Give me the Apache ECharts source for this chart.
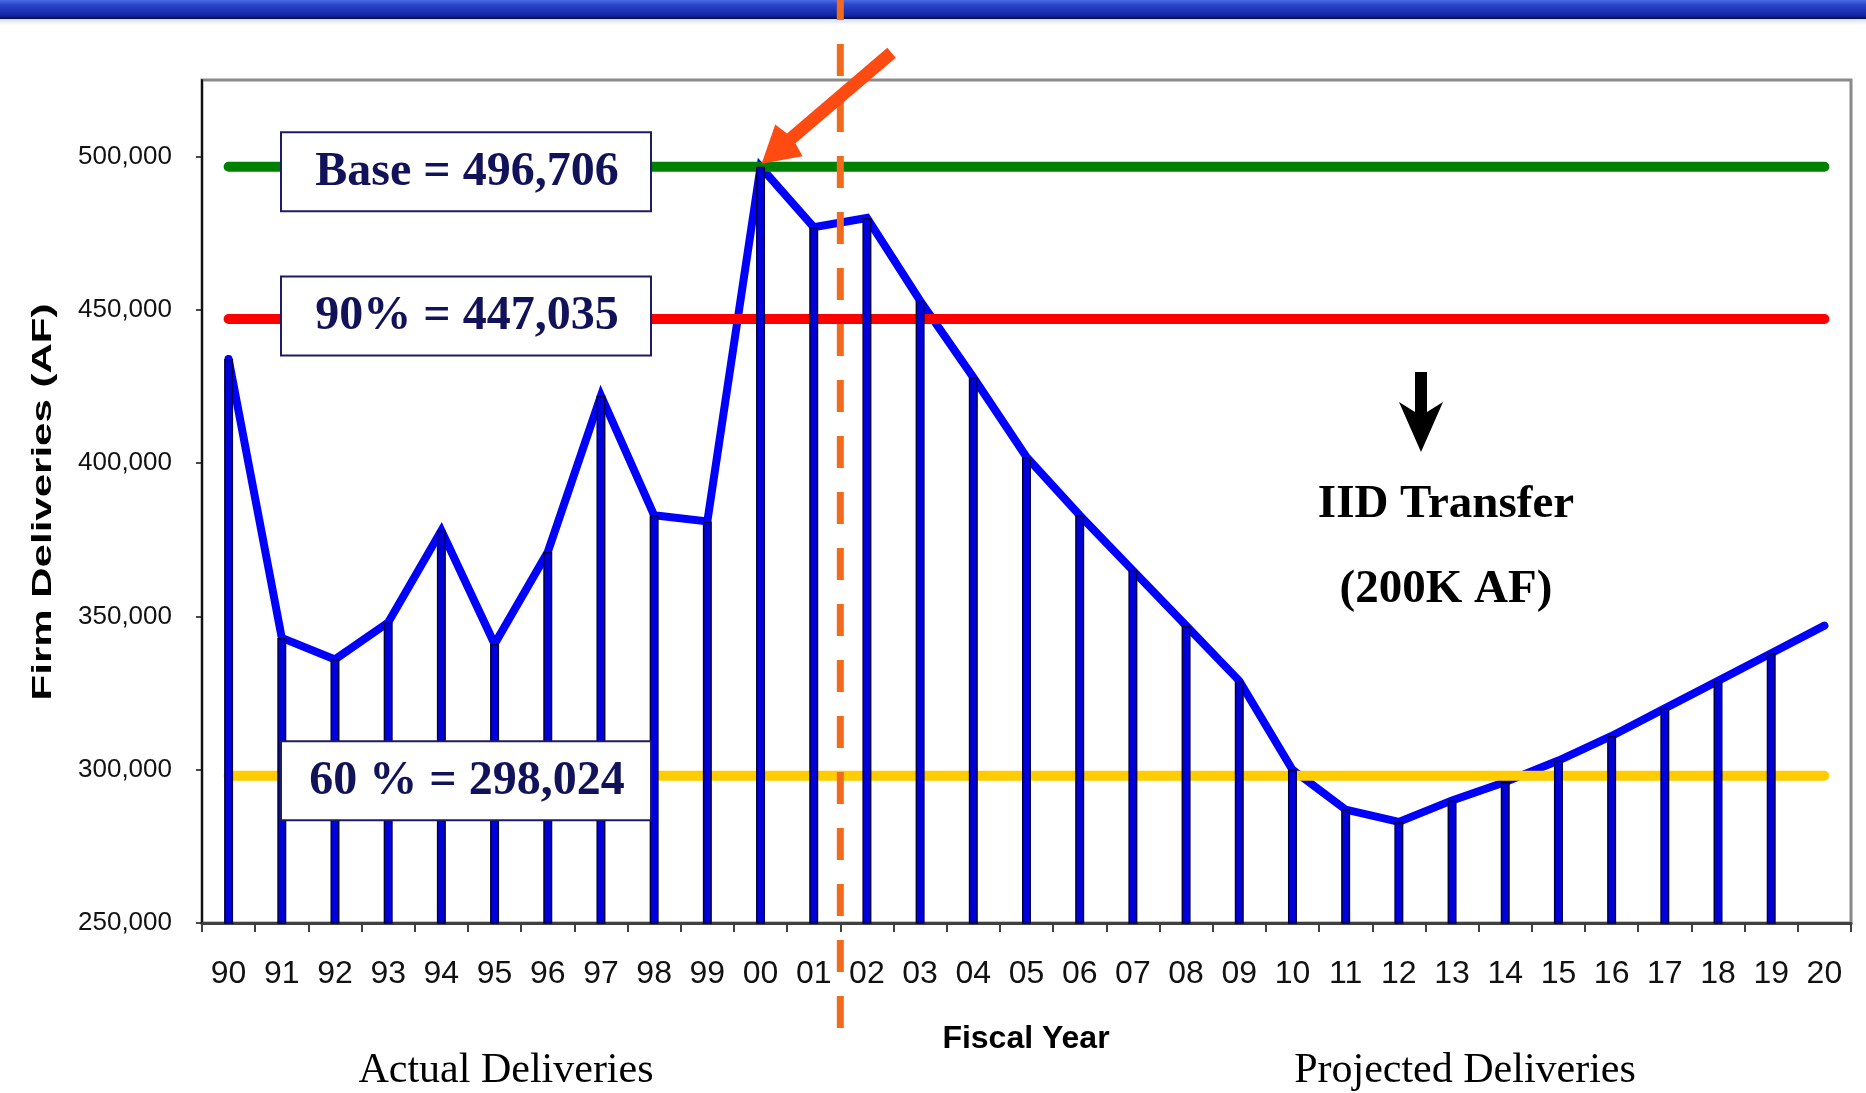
<!DOCTYPE html>
<html><head><meta charset="utf-8">
<script src="https://cdn.jsdelivr.net/npm/echarts@6/dist/echarts.min.js"></script>
<style>html,body{margin:0;padding:0;background:#fff;overflow:hidden}#c{width:1866px;height:1093px}</style>
</head><body><div id="c"></div>
<script>
// ---- data ----
const years = ['90','91','92','93','94','95','96','97','98','99','00','01','02','03','04','05','06','07','08','09','10','11','12','13','14','15','16','17','18','19','20'];
const deliveries = [434000,343000,336000,348000,378000,341000,371000,422000,383000,381000,496706,477000,480000,453000,428000,402000,383000,365000,347000,329000,300000,287000,283000,290000,296000,303000,311000,320000,329000,338000,347000];
const dropBars = [434000,343000,336000,348000,378000,341000,371000,422000,383000,381000,496706,477000,480000,453000,428000,402000,383000,365000,347000,329000,300000,287000,283000,290000,296000,303000,311000,320000,329000,338000,'-'];
const baseLevel = 496706;
const level90 = 447035;
const level60 = 298024;
const levelLabels = ['Base = 496,706', '90% = 447,035', '60 % = 298,024'];
const yTicks = [250000, 300000, 350000, 400000, 450000, 500000];
const splitAfter = '01';
const splitBefore = '02';
const peakYear = '00';

const chart = echarts.init(document.getElementById('c'), null, {renderer: 'canvas'});
const fill = v => years.map(() => v);
const fmt = v => v.toLocaleString('en-US');

const option = {
  backgroundColor: '#ffffff',
  animation: false,
  grid: {left: 202, top: 80, right: 15, bottom: 170, show: true, borderColor: '#8a8a8a', borderWidth: 3, backgroundColor: 'transparent'},
  xAxis: {
    type: 'category', data: years, boundaryGap: true,
    axisLine: {lineStyle: {color: '#404040', width: 3}},
    axisTick: {show: true, length: 9, lineStyle: {color: '#404040', width: 2}},
    axisLabel: {color: '#111', fontFamily: '"Liberation Sans Narrow", "Liberation Sans"', fontSize: 32, margin: 35, interval: 0},
    splitLine: {show: false}
  },
  yAxis: {
    type: 'value', min: 250000, max: 525000, interval: 50000,
    axisLine: {show: true, lineStyle: {color: '#111', width: 2}},
    axisTick: {show: true, length: 6, customValues: yTicks, lineStyle: {color: '#111', width: 1.5}},
    axisLabel: {color: '#111', fontFamily: 'Liberation Sans', fontSize: 26, margin: 30, customValues: yTicks, formatter: v => fmt(v)},
    splitLine: {show: false}
  },
  series: [
    {name: 'Deliveries', type: 'line', data: deliveries, symbol: 'none', z: 2,
     lineStyle: {color: '#0000FF', width: 8, join: 'miter', cap: 'round'}},
    {name: 'Base', type: 'line', data: fill(baseLevel), symbol: 'none', z: 3,
     lineStyle: {color: '#008000', width: 10, cap: 'round'}},
    {name: '90%', type: 'line', data: fill(level90), symbol: 'none', z: 3,
     lineStyle: {color: '#FF0000', width: 10, cap: 'round'}},
    {name: '60%', type: 'line', data: fill(level60), symbol: 'none', z: 3,
     lineStyle: {color: '#FFCC00', width: 10, cap: 'round'}},
    {name: 'Bars', type: 'bar', data: dropBars, barWidth: 9, z: 4,
     itemStyle: {color: '#0000DD', borderColor: '#000040', borderWidth: 1.5}}
  ]
};
chart.setOption(option);

function px(cat, val) { return chart.convertToPixel({gridIndex: 0}, [cat, val]); }

const g = [];
// top banner
g.push({type: 'rect', z: 200, shape: {x: 0, y: 0, width: 1866, height: 19},
  style: {fill: new echarts.graphic.LinearGradient(0, 0, 0, 1, [
    {offset: 0, color: '#4a6ae6'}, {offset: 0.25, color: '#2a46cc'},
    {offset: 0.8, color: '#1426a6'}, {offset: 1, color: '#060c50'}])}});
g.push({type: 'rect', z: 199, shape: {x: 0, y: 19, width: 1866, height: 6},
  style: {fill: new echarts.graphic.LinearGradient(0, 0, 0, 1, [
    {offset: 0, color: '#d8dcef'}, {offset: 1, color: '#ffffff'}])}});

// dashed divider between actual and projected
const xd = (px(splitAfter, 0)[0] + px(splitBefore, 0)[0]) / 2;
g.push({type: 'line', z: 210, shape: {x1: xd, y1: -12, x2: xd, y2: 1028},
  style: {stroke: '#F26B1D', lineWidth: 7, lineDash: [32, 24]}});

// orange arrow pointing at the peak
const tip0 = px(peakYear, baseLevel);
const tip = [tip0[0] + 1, tip0[1] - 3];
const tail = [tip[0] + 130, tip[1] - 111];
(function () {
  const dx = tail[0] - tip[0], dy = tail[1] - tip[1];
  const L = Math.hypot(dx, dy), ux = dx / L, uy = dy / L, nx = -uy, ny = ux;
  const H = 36, W = 21, s = 6.5;
  const P = (a, b) => [tip[0] + ux * a + nx * b, tip[1] + uy * a + ny * b];
  g.push({type: 'polygon', z: 220, shape: {points: [
    tip, P(H, W), P(H + 3, s), P(L, s), P(L, -s), P(H + 3, -s), P(H, -W)]},
    style: {fill: '#FF4A12'}});
})();

// level boxes
const boxes = [[baseLevel, 5], [level90, -3], [level60, 5]];
boxes.forEach((b, i) => {
  const cy = px('90', b[0])[1] + b[1];
  g.push({type: 'rect', z: 100, shape: {x: 281, y: cy - 39.5, width: 370, height: 79},
    style: {fill: '#ffffff', stroke: '#1c1c66', lineWidth: 2}});
  g.push({type: 'text', z: 101, x: 467, y: cy + 1,
    style: {text: levelLabels[i], font: 'bold 48px "Liberation Serif"', fill: '#12125a', align: 'center', verticalAlign: 'middle'}});
});

// black down arrow
g.push({type: 'polygon', z: 100, shape: {points: [
  [1415, 372], [1427, 372], [1427, 412], [1443, 402], [1421, 452], [1399, 402], [1415, 412]]},
  style: {fill: '#000000'}});
g.push({type: 'text', z: 100, x: 1446, y: 505,
  style: {text: 'IID Transfer', font: 'bold 47px "Liberation Serif"', fill: '#000', align: 'center', verticalAlign: 'middle'}});
g.push({type: 'text', z: 100, x: 1446, y: 590,
  style: {text: '(200K AF)', font: 'bold 47px "Liberation Serif"', fill: '#000', align: 'center', verticalAlign: 'middle'}});

// axis titles
g.push({type: 'text', z: 100, x: 43, y: 502, rotation: Math.PI / 2, scaleX: 1.5,
  style: {text: 'Firm Deliveries (AF)', font: 'bold 28px "Liberation Sans"', fill: '#000', align: 'center', verticalAlign: 'middle'}});
g.push({type: 'text', z: 100, x: 1026, y: 1039,
  style: {text: 'Fiscal Year', font: 'bold 32px "Liberation Sans"', fill: '#000', align: 'center', verticalAlign: 'middle'}});
g.push({type: 'text', z: 100, x: 506, y: 1071,
  style: {text: 'Actual Deliveries', font: '42px "Liberation Serif"', fill: '#000', align: 'center', verticalAlign: 'middle'}});
g.push({type: 'text', z: 100, x: 1465, y: 1071,
  style: {text: 'Projected Deliveries', font: '42px "Liberation Serif"', fill: '#000', align: 'center', verticalAlign: 'middle'}});

chart.setOption({graphic: {elements: g}});
</script>
</body></html>
